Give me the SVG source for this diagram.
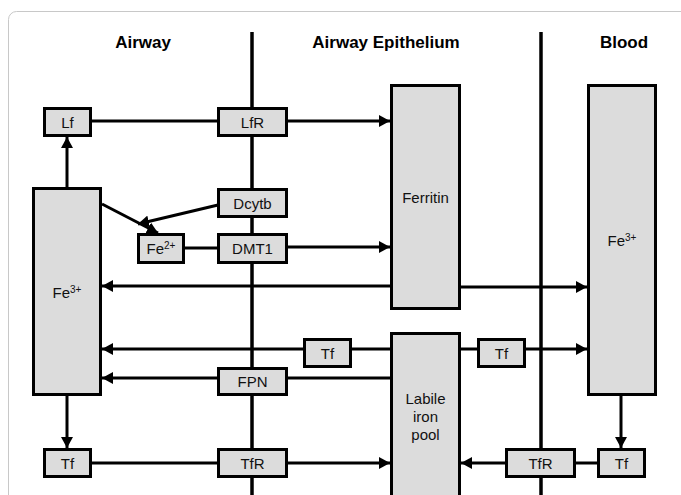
<svg xmlns="http://www.w3.org/2000/svg" width="681" height="495" viewBox="0 0 681 495">
<defs>
<style>
.box{fill:#dcdcdc;stroke:#000;stroke-width:3}
.ln{stroke:#000;stroke-width:3;fill:none}
.mem{stroke:#000;stroke-width:3.5}
.t{font-family:"Liberation Sans",Arial,sans-serif;font-size:15px;fill:#111;text-anchor:middle}
.h{font-family:"Liberation Sans",Arial,sans-serif;font-size:17px;font-weight:bold;fill:#000;text-anchor:middle}
.arr{marker-end:url(#ah)}
</style>
<marker id="ah" markerUnits="userSpaceOnUse" markerWidth="12" markerHeight="12" refX="11" refY="6" orient="auto">
<path d="M0,0 L11,6 L0,12 z" fill="#000"/>
</marker>
</defs>
<rect x="8.5" y="11.5" width="720" height="520" rx="8" fill="none" stroke="#c8c8c8" stroke-width="1"/>
<g id="titles">
<text class="h" x="143" y="48">Airway</text>
<text class="h" x="386" y="48">Airway Epithelium</text>
<text class="h" x="624" y="48">Blood</text>
</g>
<g id="membranes">
<line class="mem" x1="252" y1="32" x2="252" y2="495"/>
<line class="mem" x1="541" y1="32" x2="541" y2="495"/>
</g>
<g id="connectors">
<line class="ln arr" x1="67" y1="188" x2="67" y2="137"/>
<line class="ln" x1="92" y1="121" x2="218" y2="121"/>
<line class="ln arr" x1="288" y1="121" x2="390" y2="121"/>
<line class="ln arr" x1="102" y1="204" x2="158" y2="233"/>
<line class="ln arr" x1="218" y1="205" x2="138" y2="224"/>
<line class="ln" x1="185" y1="248" x2="218" y2="248"/>
<line class="ln arr" x1="288" y1="247" x2="390" y2="247"/>
<line class="ln arr" x1="391" y1="286" x2="102" y2="286"/>
<line class="ln arr" x1="460" y1="287" x2="587" y2="287"/>
<line class="ln arr" x1="391" y1="349" x2="102" y2="349"/>
<line class="ln arr" x1="460" y1="349" x2="587" y2="349"/>
<line class="ln arr" x1="391" y1="378" x2="102" y2="378"/>
<line class="ln arr" x1="67" y1="396" x2="67" y2="448"/>
<line class="ln arr" x1="621" y1="396" x2="621" y2="448"/>
<line class="ln" x1="92" y1="463" x2="218" y2="463"/>
<line class="ln arr" x1="288" y1="463" x2="390" y2="463"/>
<line class="ln" x1="576" y1="463" x2="598" y2="463"/>
<line class="ln arr" x1="506" y1="463" x2="461" y2="463"/>
</g>
<g id="lf"><rect class="box" x="44.5" y="108.5" width="46" height="27"/><text class="t" x="67.5" y="127.5">Lf</text></g>
<g id="lfr"><rect class="box" x="218.5" y="108.5" width="68" height="27"/><text class="t" x="252.5" y="127.5">LfR</text></g>
<g id="ferritin"><rect class="box" x="391.5" y="85.5" width="68" height="223"/><text class="t" x="425.5" y="203">Ferritin</text></g>
<g id="blood-fe3"><rect class="box" x="588.5" y="85.5" width="67" height="309"/><text class="t" x="622" y="246">Fe<tspan font-size="10" dy="-5">3+</tspan></text></g>
<g id="airway-fe3"><rect class="box" x="33.5" y="188.5" width="67" height="206"/><text class="t" x="67" y="298">Fe<tspan font-size="10" dy="-5">3+</tspan></text></g>
<g id="dcytb"><rect class="box" x="218.5" y="189.5" width="68" height="27"/><text class="t" x="252.5" y="208.5">Dcytb</text></g>
<g id="fe2"><rect class="box" x="138.5" y="234.5" width="45" height="28"/><text class="t" x="161" y="254">Fe<tspan font-size="10" dy="-5">2+</tspan></text></g>
<g id="dmt1"><rect class="box" x="218.5" y="234.5" width="68" height="28"/><text class="t" x="252.5" y="254">DMT1</text></g>
<g id="tf-mid"><rect class="box" x="304.5" y="339.5" width="46" height="27"/><text class="t" x="327.5" y="358.5">Tf</text></g>
<g id="tf-right"><rect class="box" x="478.5" y="339.5" width="46" height="27"/><text class="t" x="501.5" y="358.5">Tf</text></g>
<g id="fpn"><rect class="box" x="218.5" y="368.5" width="68" height="26"/><text class="t" x="252.5" y="387">FPN</text></g>
<g id="labile"><rect class="box" x="391.5" y="333.5" width="68" height="200"/><text class="t" x="425.5" y="404">Labile</text><text class="t" x="425.5" y="422">iron</text><text class="t" x="425.5" y="440">pool</text></g>
<g id="tf-bottom-left"><rect class="box" x="44.5" y="449.5" width="46" height="27"/><text class="t" x="67.5" y="468.5">Tf</text></g>
<g id="tfr-left"><rect class="box" x="218.5" y="449.5" width="68" height="27"/><text class="t" x="252.5" y="468.5">TfR</text></g>
<g id="tfr-right"><rect class="box" x="506.5" y="449.5" width="68" height="27"/><text class="t" x="540.5" y="468.5">TfR</text></g>
<g id="tf-bottom-right"><rect class="box" x="598.5" y="449.5" width="46" height="27"/><text class="t" x="621.5" y="468.5">Tf</text></g>
</svg>
